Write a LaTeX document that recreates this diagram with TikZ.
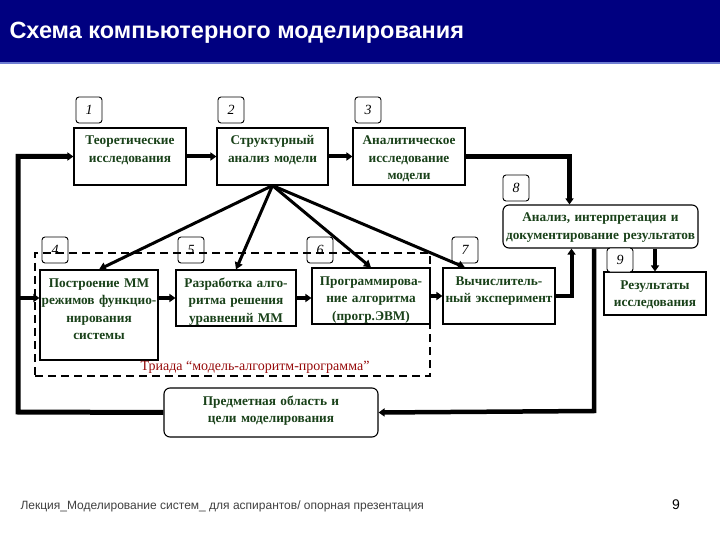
\documentclass[tikz,border=0pt]{standalone}
\usepackage{fontspec}
\setmainfont{Liberation Serif}
\setsansfont{Liberation Sans}
\usetikzlibrary{arrows.meta,positioning}
\definecolor{titleblue}{RGB}{0,0,128}
\definecolor{titleline}{RGB}{110,125,210}
\definecolor{boxtext}{RGB}{25,65,25}
\definecolor{triadred}{RGB}{150,10,10}

\begin{document}
\begin{tikzpicture}[x=1pt, y=-1pt,
  blk/.style={draw, line width=1.1pt, fill=white, align=center, inner xsep=0pt, inner ysep=3pt,
    text height=14pt, text=boxtext, font=\bfseries\fontsize{13.3}{17.5}\selectfont},
  rblk/.style={blk, rounded corners=6pt},
  num/.style={draw, line width=0.9pt, fill=white, rounded corners=3pt, minimum width=26pt, minimum height=26pt,
    inner sep=0pt, font=\itshape\fontsize{14}{14}\selectfont},
  flow/.style={line width=4pt, -{Triangle[length=6pt,width=8pt]}},
  fan/.style={line width=3pt, -{Triangle[length=7pt,width=8pt]}}]
  \useasboundingbox (0,0) rectangle (720,540);
  % title bar
  \fill[titleblue] (0,0) rectangle (720,62);
  \fill[titleline] (0,62) rectangle (720,64);
  \node[anchor=west, text=white, font=\sffamily\bfseries\fontsize{23.5}{27}\selectfont] (title) at (6,33) {Схема компьютерного моделирования};
  % upper row
  \node[blk, text width=112pt, text depth=37pt] (b1) at (130,156.5) {Теоретические\\исследования};
  \node[blk, text width=111pt, text depth=37pt] (b2) at (272.5,156.5) {Структурный\\анализ модели};
  \node[blk, text width=112pt, text depth=37pt] (b3) at (409,156.5) {Аналитическое\\исследование\\модели};
  \node[rblk, text width=195pt, text depth=23pt] (b8) at (600.5,226.5) {Анализ, интерпретация и\\документирование результатов};
  % lower row
  \node[blk, text width=118pt, text depth=70pt] (b4) at (99,315) {Построение ММ\\режимов функцио-\\нирования\\системы};
  \node[blk, text width=120pt, text depth=36pt] (b5) at (236,298) {Разработка алго-\\ритма решения\\уравнений ММ};
  \node[blk, text width=118pt, text depth=36pt] (b6) at (371,296) {Программирова-\\ние алгоритма\\(прогр.ЭВМ)};
  \node[blk, text width=112pt, text depth=36pt] (b7) at (499,296) {Вычислитель-\\ный эксперимент};
  \node[blk, text width=102pt, text depth=23pt] (b9) at (655,293.5) {Результаты\\исследования};
  \node[rblk, text width=214pt, text depth=29pt] (dom) at (271,412.5) {Предметная область и\\цели моделирования};
  % numbers
  \node[num] (n1) at (89,110) {1};
  \node[num] (n2) at (231,110) {2};
  \node[num] (n3) at (368,110) {3};
  \node[num] (n8) at (516,188) {8};
  \node[num] (n4) at (55,250) {4};
  \node[num] (n5) at (191,250) {5};
  \node[num] (n6) at (320,250) {6};
  \node[num] (n7) at (465,250) {7};
  \node[num, minimum height=24pt] (n9) at (620,260) {9};
  % triad
  \node[draw, line width=2.5pt, dash pattern=on 8pt off 5pt, minimum width=395pt, minimum height=123pt] (triad) at (232.5,314.5) {};
  \node[text=triadred, font=\fontsize{14}{16}\selectfont] (triadlbl) at (255,367) {Триада “модель-алгоритм-программа”};
  % connectors
  \coordinate (lft) at (18,412);
  \coordinate (rgt) at (594,411);
  \draw[flow] (b1) -- (b2);
  \draw[flow] (b2) -- (b3);
  \draw[flow, line width=5pt] (b3.east) -| ([xshift=-31pt]b8.north);
  \draw[flow] (b4.east |- b5.west) -- (b5.west);
  \draw[flow] (b5.east) -- (b5.east -| b6.west);
  \draw[flow] (b6) -- (b7);
  \draw[flow] (b7.east) -| ([xshift=-29pt]b8.south);
  \draw[flow, line width=3.5pt] (b8.south -| b9.north) -- (b9.north);
  \draw[flow, line width=4.5pt] (rgt |- b8.south) -- (rgt) -- (dom.east);
  \draw[flow, line width=5pt] (dom.west) -- (lft) |- (b1.west);
  \draw[flow] (lft |- b5.west) -- (b4.west |- b5.west);
  \foreach \t in {b4,b5,b6}
    \draw[fan] (b2.south) -- (\t.north);
  \draw[fan] (b2.south) -- (b7.north -| n7);
  % footer
  \node[anchor=base west, text=black!75, font=\sffamily\fontsize{12}{14}\selectfont] (foot) at (17,509) {Лекция\_Моделирование систем\_ для аспирантов/ опорная презентация};
  \node[anchor=base, font=\sffamily\fontsize{14}{16}\selectfont] (page) at (676,509) {9};
\end{tikzpicture}
\end{document}
